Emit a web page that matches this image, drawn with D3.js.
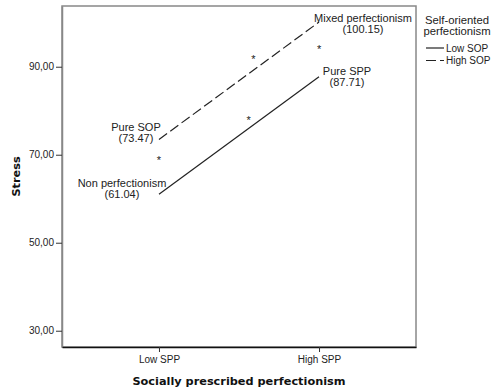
<!DOCTYPE html>
<html>
<head>
<meta charset="utf-8">
<script src="https://cdn.jsdelivr.net/npm/d3@7"></script>
<style>
  html, body { margin: 0; padding: 0; background: #fff; }
  svg { display: block; }
</style>
</head>
<body>
<svg id="chart" width="492" height="392"></svg>
<script>
// ---- data ----
const categories = ["Low SPP", "High SPP"];
const seriesNames = ["Low SOP", "High SOP"];
const lowSOP = [61.04, 87.71];
const highSOP = [73.47, 100.15];
const pointLabels = [
  ["Non perfectionism", "(61.04)"],
  ["Pure SPP", "(87.71)"],
  ["Pure SOP", "(73.47)"],
  ["Mixed perfectionism", "(100.15)"]
];
const yTicks = [30, 50, 70, 90];
const yDomain = [26.3, 103.8];
// significance markers: [fractional category position, stress value]
const starPos = [0, 0.56, 0.59, 1];
const starVal = [69.3, 78.3, 92.2, 94.5];

// ---- layout ----
const svg = d3.select("#chart");
const L = 62, R = 416, T = 6, B = 347;
const font = "'Liberation Sans', Arial, sans-serif";

const x = d3.scalePoint().domain(categories).range([L, R]).padding(0.606);
const xf = d3.scaleLinear().domain([0, 1]).range([x(categories[0]), x(categories[1])]);
const y = d3.scaleLinear().domain(yDomain).range([B, T]);

// frame
svg.append("rect").attr("x", L).attr("y", T).attr("width", R - L).attr("height", B - T)
  .attr("fill", "none").attr("stroke", "#888").attr("stroke-width", 1.5);

// y axis
const yAxis = svg.append("g").attr("transform", `translate(${L},0)`)
  .call(d3.axisLeft(y).tickValues(yTicks).tickSize(6).tickSizeOuter(0).tickPadding(2)
    .tickFormat(d => d3.format(".2f")(d).replace(".", ",")));
yAxis.select(".domain").attr("stroke", "#888").attr("stroke-width", 1.5);
yAxis.selectAll(".tick line").attr("stroke", "#333");
yAxis.selectAll(".tick text").attr("font-family", font).attr("font-size", 10).attr("fill", "#222");

// x axis
const xAxis = svg.append("g").attr("transform", `translate(0,${B})`)
  .call(d3.axisBottom(x).tickSize(5).tickSizeOuter(0).tickPadding(4));
xAxis.select(".domain").attr("stroke", "#111").attr("stroke-width", 1.5);
xAxis.selectAll(".tick line").attr("stroke", "#333");
xAxis.selectAll(".tick text").attr("font-family", font).attr("font-size", 10).attr("fill", "#222");

// axis titles
svg.append("text").attr("x", (L + R) / 2).attr("y", 385).attr("text-anchor", "middle")
  .attr("font-family", "'DejaVu Sans', sans-serif").attr("font-weight", "bold").attr("font-size", 11.3)
  .attr("fill", "#111").text("Socially prescribed perfectionism");
svg.append("text").attr("transform", `translate(20,${(T + B) / 2}) rotate(-90)`).attr("text-anchor", "middle")
  .attr("font-family", "'DejaVu Sans', sans-serif").attr("font-weight", "bold").attr("font-size", 11.3)
  .attr("fill", "#111").text("Stress");

// lines
const series = [
  { name: seriesNames[0], values: lowSOP, dash: null },
  { name: seriesNames[1], values: highSOP, dash: "10,4" }
];
const line = d3.line().x((d, i) => x(categories[i])).y(d => y(d));
svg.selectAll(".series").data(series).join("path")
  .attr("class", "series")
  .attr("d", d => line(d.values))
  .attr("fill", "none").attr("stroke", "#222").attr("stroke-width", 1.2)
  .attr("stroke-dasharray", d => d.dash);

// point labels (offsets relative to their points)
const labelOffsets = [[-37, -7], [28, -2], [-23, -8], [44, 0]];
const pts = [
  [0, lowSOP[0]], [1, lowSOP[1]], [0, highSOP[0]], [1, highSOP[1]]
];
pts.forEach((p, i) => {
  const px = x(categories[p[0]]) + labelOffsets[i][0];
  const py = y(p[1]) + labelOffsets[i][1];
  const t = svg.append("text").attr("text-anchor", "middle")
    .attr("font-family", font).attr("font-size", 11).attr("fill", "#222");
  pointLabels[i].forEach((s, j) => {
    t.append("tspan").attr("x", px).attr("y", py + j * 11).text(s);
  });
});

// asterisks
starPos.forEach((f, i) => {
  svg.append("text").attr("x", xf(f)).attr("y", y(starVal[i]) + 6)
    .attr("text-anchor", "middle").attr("font-family", font).attr("font-size", 11)
    .attr("fill", "#222").text("*");
});

// legend
const lg = svg.append("g");
lg.append("text").attr("text-anchor", "middle").attr("font-family", font).attr("font-size", 11.3)
  .attr("fill", "#222")
  .selectAll("tspan").data(["Self-oriented", "perfectionism"]).join("tspan")
  .attr("x", 457).attr("y", (d, i) => 23.5 + i * 11).text(d => d);
series.forEach((s, i) => {
  const ly = 48 + i * 12.5;
  lg.append("line").attr("x1", 426).attr("x2", 444).attr("y1", ly).attr("y2", ly)
    .attr("stroke", "#222").attr("stroke-width", 1.2).attr("stroke-dasharray", s.dash);
  lg.append("text").attr("x", 446).attr("y", ly + 3.8).attr("font-family", font).attr("font-size", 10)
    .attr("fill", "#222").text(s.name);
});
</script>
</body>
</html>
